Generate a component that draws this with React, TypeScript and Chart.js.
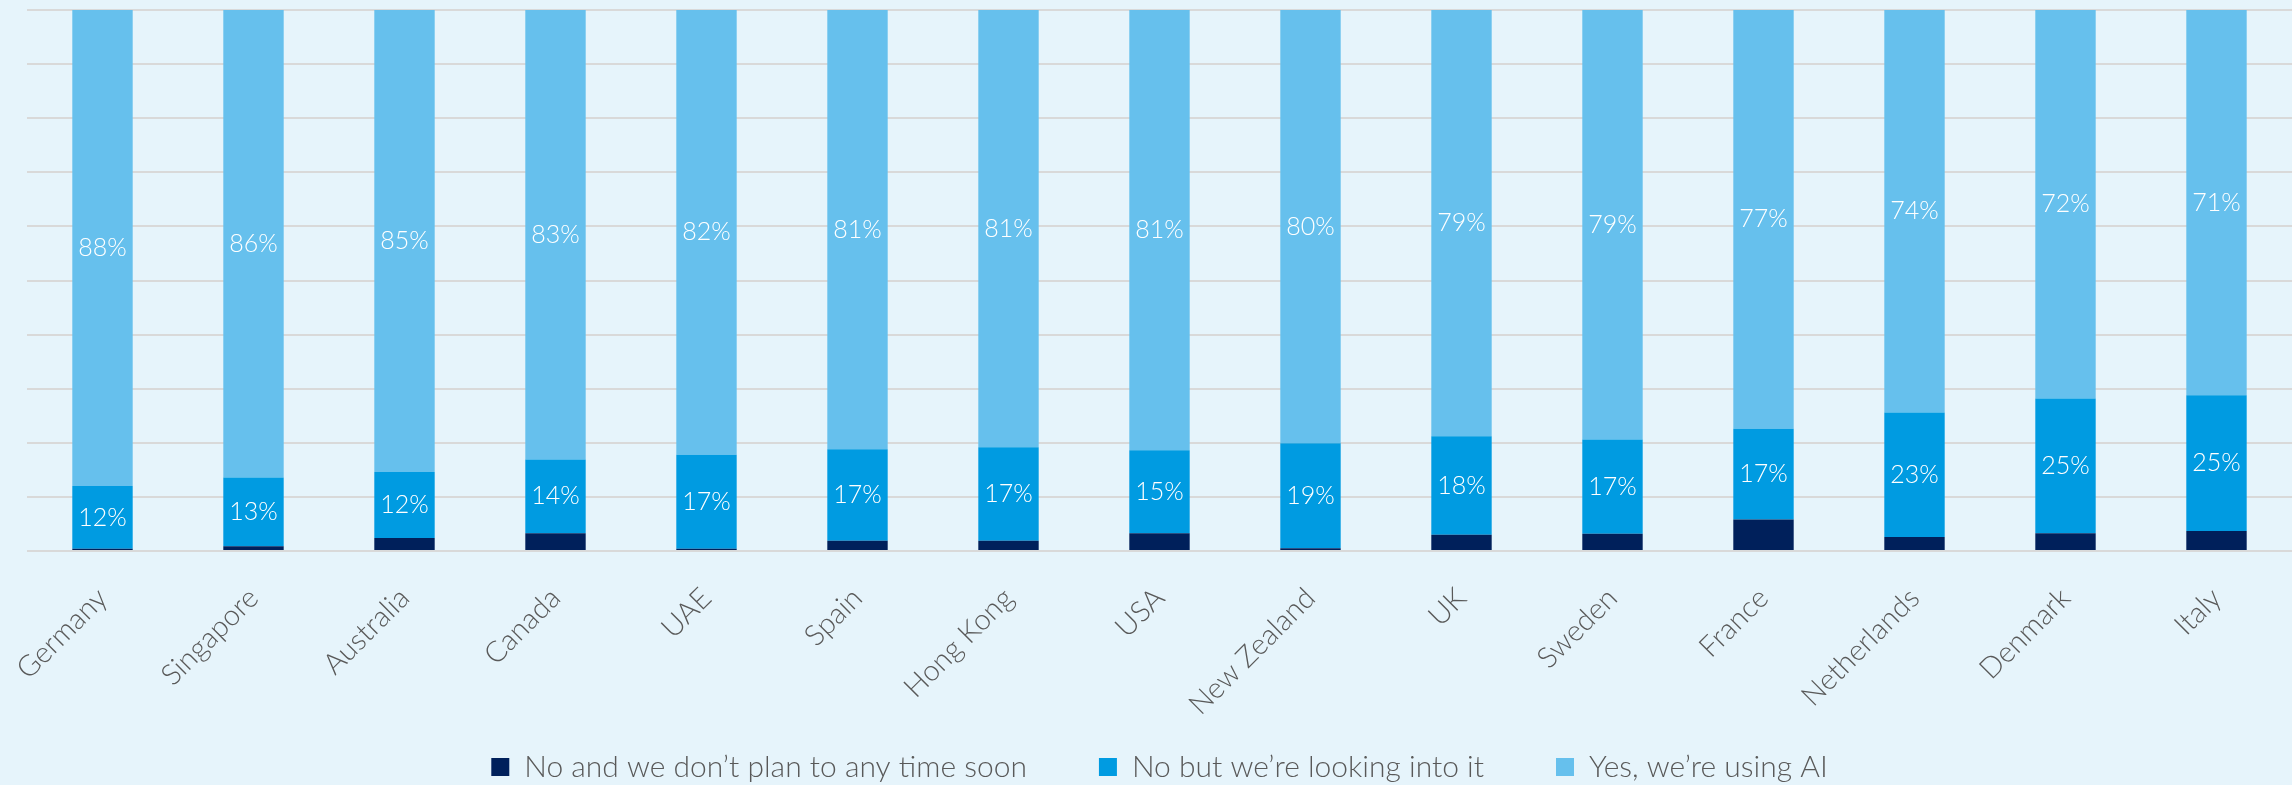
import React, { useEffect, useRef } from "react";
import { Chart, registerables } from "chart.js";

Chart.register(...registerables);

const categories = [
  "Germany", "Singapore", "Australia", "Canada", "UAE", "Spain", "Hong Kong", "USA",
  "New Zealand", "UK", "Sweden", "France", "Netherlands", "Denmark", "Italy",
];
const seriesNames = [
  "No and we don\u2019t plan to any time soon",
  "No but we\u2019re looking into it",
  "Yes, we\u2019re using AI",
];
const noPlan = [0.4, 0.9, 2.4, 3.3, 0.4, 1.9, 1.9, 3.3, 0.5, 3.0, 3.2, 5.8, 2.6, 3.3, 3.7];
const lookingInto = [11.6, 12.7, 12.2, 13.6, 17.4, 16.9, 17.3, 15.3, 19.4, 18.2, 17.4, 16.8, 23.0, 24.9, 25.1];
const usingAI = [88.0, 86.4, 85.4, 83.1, 82.2, 81.2, 80.8, 81.4, 80.1, 78.8, 79.4, 77.4, 74.4, 71.8, 71.2];
const labelledSeries = [1, 2];

const BG = "#E6F4FB";
const FONT = "Lato, 'Open Sans', sans-serif";

const dataLabelPlugin = {
  id: "segmentLabels",
  afterDatasetsDraw(chart: any) {
    const ctx = chart.ctx;
    ctx.save();
    ctx.fillStyle = "#FFFFFF";
    ctx.font = `300 25px ${FONT}`;
    ctx.textAlign = "center";
    ctx.textBaseline = "middle";
    labelledSeries.forEach((di) => {
      const meta = chart.getDatasetMeta(di);
      const ds = chart.data.datasets[di];
      meta.data.forEach((el: any, i: number) => {
        const v = ds.data[i] as number;
        const y = (el.y + el.base) / 2;
        ctx.fillText(`${Math.round(v)}%`, el.x, y);
      });
    });
    ctx.restore();
  },
};

const bgPlugin = {
  id: "bgFill",
  beforeDraw(chart: any) {
    const ctx = chart.ctx;
    ctx.save();
    ctx.fillStyle = BG;
    ctx.fillRect(0, 0, chart.width, chart.height);
    ctx.restore();
  },
};

// let the rotated x labels run down over the (transparent) legend band
const labelRoomPlugin = {
  id: "labelRoom",
  afterLayout(chart: any) {
    const x = chart.scales.x;
    if (x) {
      x.bottom = chart.height;
      x.height = x.bottom - x.top;
    }
  },
};

export default function App() {
  const ref = useRef<HTMLCanvasElement | null>(null);
  useEffect(() => {
    document.body.style.margin = "0";
    document.body.style.background = BG;
    const canvas = ref.current;
    if (!canvas) return;
    const chart = new Chart(canvas, {
      type: "bar",
      data: {
        labels: categories,
        datasets: [
          { label: seriesNames[0], data: noPlan, backgroundColor: "#00205B", borderWidth: 0 },
          { label: seriesNames[1], data: lookingInto, backgroundColor: "#009BE1", borderWidth: 0 },
          { label: seriesNames[2], data: usingAI, backgroundColor: "#66C0ED", borderWidth: 0 },
        ],
      },
      options: {
        responsive: false,
        animation: false,
        events: [],
        datasets: { bar: { barPercentage: 0.8, categoryPercentage: 0.5 } },
        layout: { padding: { left: 27, right: 0, top: 10, bottom: -7 } },
        scales: {
          x: {
            stacked: true,
            grid: { display: false, drawTicks: false },
            border: { display: false },
            ticks: {
              color: "#595959",
              font: { family: FONT, size: 29, weight: "300" },
              minRotation: 45,
              maxRotation: 45,
              padding: 30,
            },
            afterFit: (scale: any) => {
              scale.height = 129;
              scale.paddingLeft = 0;
              scale.paddingRight = 0;
            },
          },
          y: {
            stacked: true,
            min: 0,
            max: 100,
            ticks: { display: false, stepSize: 10 },
            border: { display: false },
            grid: { color: "#D9D9D9", lineWidth: 2, drawTicks: false },
          },
        },
        plugins: {
          legend: {
            position: "bottom",
            labels: {
              color: "#595959",
              font: { family: FONT, size: 30, weight: "300" },
              boxWidth: 18,
              boxHeight: 18,
              padding: 72,
            },
          },
          tooltip: { enabled: false },
        },
      },
      plugins: [bgPlugin, labelRoomPlugin, dataLabelPlugin],
    });
    return () => chart.destroy();
  }, []);
  return (
    <div style={{ width: 2292, height: 785, background: BG }}>
      <canvas ref={ref} width={2292} height={785} style={{ display: "block" }} />
    </div>
  );
}
